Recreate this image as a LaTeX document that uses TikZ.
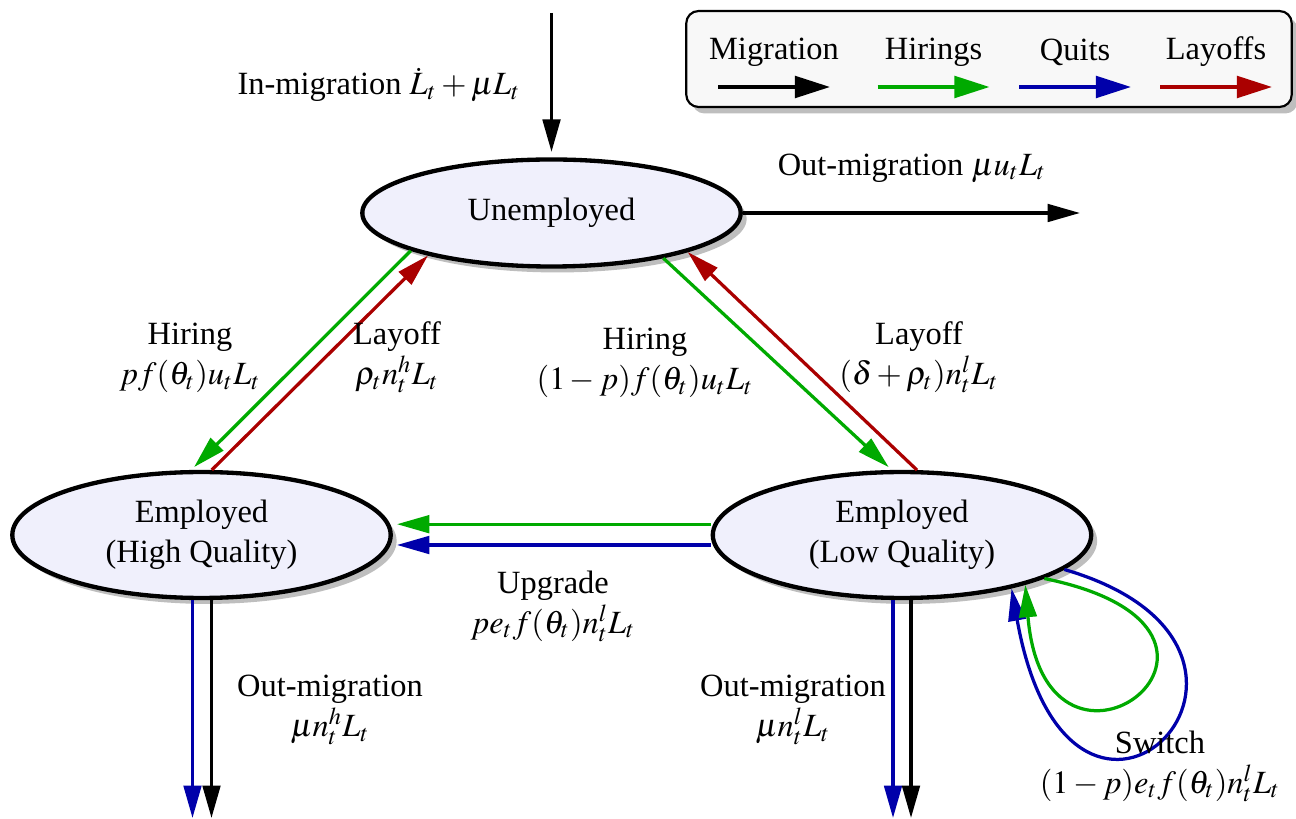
\documentclass[tikz,border=0pt]{standalone}
\usepackage{mathptmx}
\usepackage{fontspec}
\setmainfont{Liberation Serif}
\usepackage{tikz}
\usetikzlibrary{arrows.meta,positioning,shapes.geometric,shadows}
\definecolor{green2}{RGB}{0,170,0}
\definecolor{blue2}{RGB}{0,0,170}
\definecolor{red2}{RGB}{170,0,0}
\definecolor{statefill}{RGB}{240,240,252}
\definecolor{legendfill}{RGB}{248,248,248}
\definecolor{shadowgray}{RGB}{190,190,190}
\tikzset{
  statebox/.style={ellipse, draw=black, line width=1.6pt, fill=statefill,
    minimum width=140pt, inner sep=0pt, align=center,
    drop shadow={shadow xshift=2.2pt, shadow yshift=-2.2pt, fill=shadowgray, opacity=1}},
  legendbox/.style={draw=black, line width=0.8pt, rounded corners=4.5pt, fill=legendfill,
    minimum width=224pt, minimum height=35.5pt,
    drop shadow={shadow xshift=2.2pt, shadow yshift=-2.4pt, fill=shadowgray, opacity=1}},
  ratelabel/.style={align=center},
  flow/.style={-{Triangle[length=12pt,width=6.5pt]}, line width=1.2pt},
  keyflow/.style={-{Triangle[length=13pt,width=8pt]}, line width=1.3pt},
  migflow/.style={flow, draw=black},
  hireflow/.style={flow, draw=green2},
  quitflow/.style={flow, draw=blue2},
  layoffflow/.style={flow, draw=red2}
}

\begin{document}
\begin{tikzpicture}[x=0.37pt, y=-0.37pt, font=\fontsize{12}{14.8}\selectfont]
\useasboundingbox (0,0) rectangle (1296,819);

% states
\node[statebox, minimum height=39.6pt] (unemp) at (551.5,213) {Unemployed};
\node[statebox, minimum height=46.6pt] (high) at (201.5,535) {Employed\\(High Quality)};
\node[statebox, minimum height=46.6pt] (low) at (902,535) {Employed\\(Low Quality)};

% legend
\node[legendbox] (legend) at (989,59) {};
\foreach \name/\col/\xc in {Migration/black/774, Hirings/green2/933.5, Quits/blue2/1075, Layoffs/red2/1216}{
  \node (key\name) at (\xc,52) {\name};
  \coordinate (keyL\name) at (\xc-56,87);
  \coordinate (keyR\name) at (\xc+56,87);
  \draw[keyflow, draw=\col] (keyL\name) -- (keyR\name);
}

% free ends
\coordinate (insrc) at (551.5,13);
\coordinate (outdst) at (1080,213);
\coordinate (hqexit) at (192.5,818);
\coordinate (hmexit) at (211.5,818);
\coordinate (lqexit) at (893,818);
\coordinate (lmexit) at (911,818);

% migration
\draw[migflow, shorten >=2pt] (insrc) -- (unemp.north);
\draw[migflow] (unemp.east) -- (outdst);
\draw[quitflow] (high.south -| hqexit) -- (hqexit);
\draw[migflow] (high.south -| hmexit) -- (hmexit);
\draw[quitflow] (low.south -| lqexit) -- (lqexit);
\draw[migflow] (low.south -| lmexit) -- (lmexit);

% hirings and layoffs
\draw[hireflow, shorten >=1.5pt] (unemp.195.3) -- (high.99.2);
\draw[layoffflow] (high.81.1) -- (unemp.199.6);
\draw[hireflow, shorten >=1.5pt] (unemp.338.7) -- (low.99.5);
\draw[layoffflow] (low.77.4) -- (unemp.344.4);

% upgrade
\draw[hireflow, shorten >=1.5pt] ([yshift=4pt]low.west) -- ([yshift=4pt]high.east);
\draw[quitflow, shorten >=1.5pt] ([yshift=-3.7pt]low.west) -- ([yshift=-3.7pt]high.east);

% switch
\draw[quitflow] (low.348.8) .. controls +(275,80) and +(60,335) .. (low.334.9);
\draw[hireflow] (low.343.8) .. controls +(255,52) and +(20,240) .. (low.338.3);

% labels
\node[ratelabel] (inlbl) at (379,85) {In-migration $\dot{L}_t + \mu L_t$};
\node[ratelabel] (outlbl) at (912,168) {Out-migration $\mu u_t L_t$};
\node[ratelabel] (hirehigh) at (190,358) {Hiring\\$pf(\theta_t)u_tL_t$};
\node[ratelabel] (layhigh) at (397,357) {Layoff\\$\rho_t n_t^h L_t$};
\node[ratelabel] (hirelow) at (645,363) {Hiring\\$(1-p)f(\theta_t)u_tL_t$};
\node[ratelabel] (laylow) at (919,357) {Layoff\\$(\delta+\rho_t)n_t^l L_t$};
\node[ratelabel] (upgrade) at (553,606) {Upgrade\\$pe_tf(\theta_t)n_t^lL_t$};
\node[ratelabel] (outhigh) at (330,710) {Out-migration\\$\mu n_t^h L_t$};
\node[ratelabel] (outlow) at (793,710) {Out-migration\\$\mu n_t^l L_t$};
\node[ratelabel] (switch) at (1160,766) {Switch\\$(1-p)e_tf(\theta_t)n_t^lL_t$};
\end{tikzpicture}
\end{document}
